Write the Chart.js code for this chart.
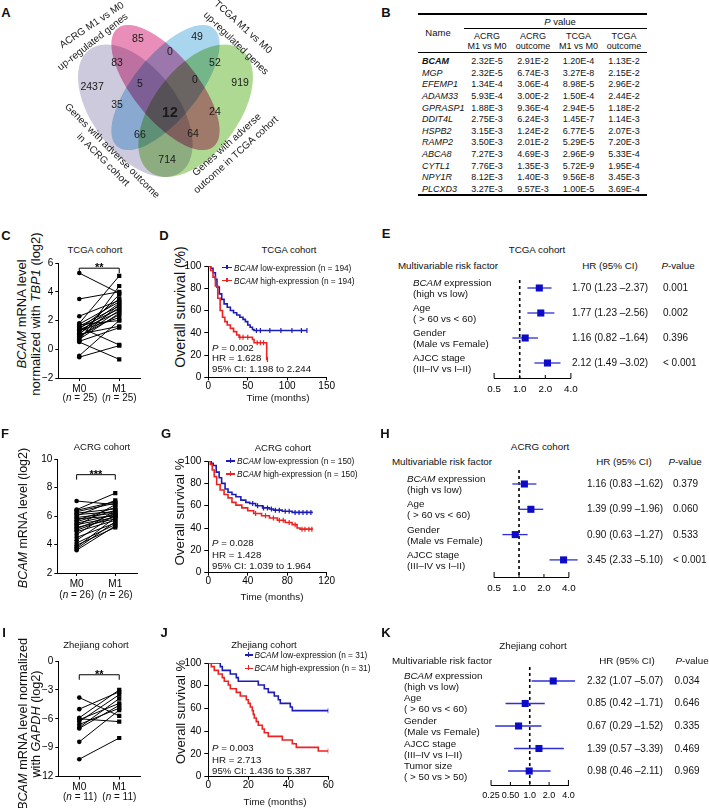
<!DOCTYPE html>
<html><head><meta charset="utf-8"><title>BCAM figure</title>
<script src="https://cdn.jsdelivr.net/npm/chart.js"></script>
<style>
html,body{margin:0;padding:0;background:#fff;}
#root{position:relative;width:709px;height:808px;overflow:hidden;font-family:"Liberation Sans",Arial,Helvetica,sans-serif;color:#111;}
.t{position:absolute;white-space:nowrap;line-height:1;}
</style></head><body><div id="root"></div>
<script>
const FONT='"Liberation Sans", Arial, Helvetica, sans-serif';
// ================= DATA =================
// A: Venn
const vennLabelLines=[['ACRG M1 vs M0','up-regulated genes'],['TCGA M1 vs M0','up-regulated genes'],['Genes with adverse outcome','in ACRG cohort'],['Genes with adverse','outcome in TCGA cohort']];
const vennCounts=[2437,85,83,5,0,49,0,52,919,35,12,24,66,64,714];
// B: table
const tableGenes=['BCAM','MGP','EFEMP1','ADAM33','GPRASP1','DDIT4L','HSPB2','RAMP2','ABCA8','CYTL1','NPY1R','PLCXD3'];
const tableHeaders=[['ACRG','M1 vs M0'],['ACRG','outcome'],['TCGA','M1 vs M0'],['TCGA','outcome']];
const pAcrgM1vsM0=['2.32E-5','2.32E-5','1.34E-4','5.93E-4','1.88E-3','2.75E-3','3.15E-3','3.50E-3','7.27E-3','7.76E-3','8.12E-3','3.27E-3'];
const pAcrgOutcome=['2.91E-2','6.74E-3','3.06E-4','3.00E-2','9.36E-4','6.24E-3','1.24E-2','2.01E-2','4.69E-3','1.35E-3','1.40E-3','9.57E-3'];
const pTcgaM1vsM0=['1.20E-4','3.27E-8','8.98E-5','1.50E-4','2.94E-5','1.45E-7','6.77E-5','5.29E-5','2.96E-9','5.72E-9','9.56E-8','1.00E-5'];
const pTcgaOutcome=['1.13E-2','2.15E-2','2.96E-2','2.44E-2','1.18E-2','1.14E-3','2.07E-3','7.20E-3','5.33E-4','1.95E-4','3.45E-3','3.69E-4'];
// C, F, I: paired expression
const pairedTicks=['M0','M1'];
const tcgaM0=[5.3,3.5,2.3,1.8,1.75,1.7,1.6,1.55,1.5,1.4,1.35,1.3,1.2,1.1,1.05,1.0,0.9,0.85,0.8,0.7,0.6,0.55,0.5,-0.45,-0.55];
const tcgaM1=[3.9,4.0,3.4,5.1,3.3,2.0,3.0,0.3,2.8,3.5,2.6,2.2,3.2,2.9,1.6,3.8,2.4,2.7,3.1,2.5,4.4,1.5,-0.7,2.0,0.25];
const acrgM0=[7.05,6.45,6.4,6.3,6.2,6.1,6.0,5.9,5.8,5.7,5.6,5.5,5.4,5.3,5.2,5.1,5.0,4.9,4.7,4.5,4.3,4.1,3.95,3.8,3.7,3.6];
const acrgM1=[6.8,7.6,7.0,6.9,6.5,6.3,7.1,6.2,6.0,6.6,6.4,6.1,5.9,6.8,5.8,6.2,6.0,5.7,6.4,5.5,6.1,5.4,5.2,5.9,5.6,5.3];
const zjM0=[-3.8,-5.0,-5.9,-6.0,-6.1,-6.3,-6.6,-6.9,-7.0,-8.4,-10.2];
const zjM1=[-5.7,-3.2,-3.0,-6.3,-4.4,-3.5,-4.9,-3.9,-4.6,-5.1,-8.0];
// D, G, J: Kaplan-Meier (time in months, survival %)
const dLowT=[0,3,6,9,11,14,17,20,24,28,32,36,40,44,47,50,53,56,58,125];
const dLowS=[100,98,94,88,81,75,70,66,63,60,58,56,54,52,50,47,45,43,42,42];
const dLowCens=[61,66,78,92,106,118,125];
const dHighT=[0,3,6,9,12,15,18,21,24,28,32,36,39,50,56,58,72,74,75];
const dHighS=[100,96,90,82,71,60,54,50,47,44,41,38,36,36,34,31,31,16,16];
const dHighCens=[40,44,50,62,66,70,75];
const gLowT=[0,3,5,8,11,13.5,17,20,24,28,33,38,42,48,55,62,66,75,85,106];
const gLowS=[100,98,96,90,85,80,75,72,70,68,65,63,62,60,58,57,56,55,54,54];
const gLowCens=[45,50,56,60,64,68,72,78,82,88,92,96,100,104];
const gHighT=[0,2,4,6,8.5,12,16,20,24,28,34,40,46,54,62,70,78,85,90,93,106];
const gHighS=[100,97,92,86,79,74,70,67,63,60.5,58,55.5,53,51,49,47,45,43,40,39,39];
const gHighCens=[48,58,66,72,76,82,88,95,98,102,105];
const jLowT=[0,6,7,11,14,15,25,28,30,33,35,36,41,42,60];
const jLowS=[100,96.8,93.5,90.3,87.1,83.9,80.6,77.4,74.2,71.0,67.7,64.5,61.3,58.1,58.1];
const jLowCens=[60];
const jHighT=[0,1.5,3,5,7,8,10,11,14,16,19,20,21,22,22.5,23,24,25,27,28,30,37,42,44,55,60];
const jHighS=[100,96.8,93.5,90.3,87.1,83.9,80.6,77.4,74.2,71.0,67.7,64.5,61.3,58.1,54.8,51.6,48.4,45.2,41.9,38.7,35.5,32.3,29.0,25.8,22.6,22.6];
const jHighCens=[60];
// E, H, K: multivariable Cox
const riskFactors=[['<i>BCAM</i> expression','(high vs low)'],['Age','( &gt; 60 vs &lt; 60)'],['Gender','(Male vs Female)'],['AJCC stage','(III–IV vs I–II)'],['Tumor size','( &gt; 50 vs &gt; 50)']];
const eHR=[1.70,1.77,1.16,2.12], eLow=[1.23,1.23,0.82,1.49], eHigh=[2.37,2.56,1.64,3.02], eP=['0.001','0.002','0.396','&lt; 0.001'];
const hHR=[1.16,1.39,0.90,3.45], hLow=[0.83,0.99,0.63,2.33], hHigh=[1.62,1.96,1.27,5.10], hP=['0.379','0.060','0.533','&lt; 0.001'];
const kHR=[2.32,0.85,0.67,1.39,0.98], kLow=[1.07,0.42,0.29,0.57,0.46], kHigh=[5.07,1.71,1.52,3.39,2.11], kP=['0.034','0.646','0.335','0.469','0.969'];
const forestTicks=[0.5,1,2,4], forestTickLabels=['0.5','1.0','2.0','4.0'];
const forestTicksK=[0.25,0.5,1,2,4], forestTickLabelsK=['0.25','0.50','1.0','2.0','4.0'];

// ================= LAYOUT / STYLE =================
const root=document.getElementById('root');
Chart.defaults.font.family=FONT; Chart.defaults.color='#000';
const KM_BLUE='#1c1cb6', KM_RED='#ee2222', F_BLUE='#0c0cc8', F_LINE='#2f2fd4';

function addText(html,x,y,o={}){
  const d=document.createElement('div'); d.className='t'; d.innerHTML=html;
  d.style.fontSize=(o.size||10)+'px';
  if(o.bold) d.style.fontWeight='bold';
  if(o.color) d.style.color=o.color;
  if(o.lh) d.style.lineHeight=o.lh+'px';
  if(o.align) d.style.textAlign=o.align;
  d.style.left=x+'px'; d.style.top=y+'px';
  const a=o.anchor||'c'; const tx=a==='l'?'0':a==='r'?'-100%':'-50%';
  d.style.transform=`translate(${tx},-50%)`+(o.rot?` rotate(${o.rot}deg)`:'');
  root.appendChild(d); return d;
}
function hline(x1,x2,y,w,color){const d=document.createElement('div');d.style.cssText=`position:absolute;left:${x1}px;top:${y-w/2}px;width:${x2-x1}px;height:${w}px;background:${color||'#000'}`;root.appendChild(d);}
function vline(x,y1,y2,w,color){const d=document.createElement('div');d.style.cssText=`position:absolute;left:${x-w/2}px;top:${y1}px;width:${w}px;height:${y2-y1}px;background:${color||'#000'}`;root.appendChild(d);}

function ax(o){
  const a={type:o.type||'linear',display:o.display!==false,reverse:!!o.reverse,
    border:{display:true,color:'#000',width:1},
    grid:{display:o.grid!==false,drawOnChartArea:false,drawTicks:o.grid!==false,tickLength:o.tl!=null?o.tl:4,color:'#000',lineWidth:1},
    ticks:{color:'#000',font:{family:FONT,size:o.fs||10},padding:o.pad!=null?o.pad:2,autoSkip:false,maxRotation:0,minRotation:0}};
  if(o.min!=null)a.min=o.min; if(o.max!=null)a.max=o.max;
  if(o.step!=null)a.ticks.stepSize=o.step;
  if(o.cb)a.ticks.callback=o.cb;
  if(o.fit)a.afterFit=o.fit;
  if(o.abt)a.afterBuildTicks=o.abt;
  return a;
}
function makeChart(area,yW,xH,m,cfg){
  const cl=Math.floor(area.l-yW-m),ct=Math.floor(area.t-m),cr=Math.ceil(area.r+m),cb=Math.ceil(area.b+xH+m);
  const w=cr-cl,h=cb-ct;
  const cv=document.createElement('canvas');cv.width=w;cv.height=h;
  cv.style.cssText=`position:absolute;left:${cl}px;top:${ct}px;width:${w}px;height:${h}px;`;
  root.appendChild(cv);
  const o=cfg.options||(cfg.options={});
  o.responsive=false;o.maintainAspectRatio=false;o.animation=false;o.devicePixelRatio=1;o.events=[];
  o.layout={autoPadding:false,padding:{left:area.l-yW-cl,top:area.t-ct,right:cr-area.r,bottom:cb-area.b-xH}};
  o.plugins=Object.assign({legend:{display:false},tooltip:{enabled:false}},o.plugins||{});
  return new Chart(cv.getContext('2d'),cfg);
}
const minus=v=>v<0?'\u2212'+Math.abs(v):String(v);

// ---------- plugins ----------
const bracketPlugin={id:'bracket',afterDatasetsDraw(chart,args,o){
  const X=chart.scales.x,Y=chart.scales.y,ctx=chart.ctx;
  const y0=Y.getPixelForValue(o.y),x0=X.getPixelForValue(0),x1=X.getPixelForValue(1);
  ctx.save();ctx.strokeStyle='#000';ctx.lineWidth=1;ctx.beginPath();
  ctx.moveTo(x0,y0+5);ctx.lineTo(x0,y0);ctx.lineTo(x1,y0);ctx.lineTo(x1,y0+5);ctx.stroke();
  ctx.fillStyle='#000';ctx.font='bold 11px '+FONT;ctx.textAlign='center';ctx.textBaseline='alphabetic';
  ctx.fillText(o.text,(x0+x1)/2,y0+3);ctx.restore();
}};
const inwardTicks={id:'inwardTicks',afterDraw(chart){
  const X=chart.scales.x,ctx=chart.ctx;ctx.save();ctx.strokeStyle='#000';ctx.lineWidth=1;
  X.ticks.forEach((t,i)=>{const x=X.getPixelForValue(t.value);const len=(i===0||i===X.ticks.length-1)?5:3;
    ctx.beginPath();ctx.moveTo(x,X.top+0.5);ctx.lineTo(x,X.top-len);ctx.stroke();});
  ctx.restore();
}};
const VENN={
  ellipses:[
    {cx:0.35,cy:0.47,a:0.35,b:0.20,rot:-45,color:'rgb(206,202,222)'},
    {cx:0.50,cy:0.57,a:0.35,b:0.15,rot:-45,color:'rgb(233,142,184)'},
    {cx:0.50,cy:0.57,a:0.35,b:0.15,rot:45,color:'rgb(170,213,239)'},
    {cx:0.65,cy:0.47,a:0.35,b:0.20,rot:45,color:'rgb(174,217,146)'}],
  countPos:[[0.135,0.572],[0.363,0.779],[0.259,0.675],[0.373,0.585],[0.522,0.723],[0.657,0.787],[0.647,0.602],[0.746,0.675],[0.871,0.589],[0.259,0.495],[0.522,0.460],[0.746,0.465],[0.373,0.366],[0.637,0.370],[0.508,0.258]],
  boldIndex:10,
  labels:[
    {angle:[-34,-38],pos:[[0.134,0.838],[0.139,0.766]]},
    {angle:[42,44],pos:[[0.885,0.830],[0.850,0.760]]},
    {angle:[45,45],pos:[[0.234,0.297],[0.189,0.258]]},
    {angle:[-42,-42],pos:[[0.806,0.323],[0.851,0.280]]}]
};
const vennPlugin={id:'venn',afterDraw(chart){
  const X=chart.scales.x,Y=chart.scales.y,ctx=chart.ctx;
  const sx=X.getPixelForValue(1)-X.getPixelForValue(0),sy=Y.getPixelForValue(0)-Y.getPixelForValue(1);
  ctx.save();ctx.globalCompositeOperation='multiply';
  VENN.ellipses.forEach(e=>{ctx.save();ctx.translate(X.getPixelForValue(e.cx),Y.getPixelForValue(e.cy));
    ctx.scale(sx,-sy);ctx.rotate(e.rot*Math.PI/180);ctx.beginPath();ctx.ellipse(0,0,e.a,e.b,0,0,2*Math.PI);
    ctx.fillStyle=e.color;ctx.fill();ctx.restore();});
  ctx.restore();
  ctx.save();ctx.fillStyle='#1a1a1a';ctx.textAlign='center';ctx.textBaseline='middle';
  vennCounts.forEach((n,i)=>{const p=VENN.countPos[i];ctx.font=(i===VENN.boldIndex?'bold 14px ':'10.5px ')+FONT;
    ctx.fillText(String(n),X.getPixelForValue(p[0]),Y.getPixelForValue(p[1]));});
  vennLabelLines.forEach((lines,k)=>{const L=VENN.labels[k];lines.forEach((txt,j)=>{const p=L.pos[j];
    ctx.save();ctx.translate(X.getPixelForValue(p[0]),Y.getPixelForValue(p[1]));ctx.rotate(L.angle[j]*Math.PI/180);
    ctx.font='10px '+FONT;ctx.fillText(txt,0,0);ctx.restore();});});
  ctx.restore();
}};

// ---------- chart builders ----------
function pairedChart(area,xr,yr,step,m0,m1,bracket){
  const ds=m0.map((v,i)=>({data:[{x:0,y:v},{x:1,y:m1[i]}],showLine:true,borderColor:'#000',borderWidth:1,
    pointBackgroundColor:'#000',pointBorderColor:'#000',pointBorderWidth:0,pointRadius:[2.3,3.0],pointStyle:['circle','rect']}));
  return makeChart(area,22,16,6,{type:'line',data:{datasets:ds},options:{scales:{
    x:ax({min:xr[0],max:xr[1],tl:3,pad:2,abt:s=>{s.ticks=[{value:0},{value:1}];},cb:(v,i)=>pairedTicks[i],fit:s=>{s.height=16;}}),
    y:ax({min:yr[0],max:yr[1],step:step,tl:3,pad:2,cb:v=>minus(v),fit:s=>{s.width=22;}})},
    plugins:{bracket:bracket}},plugins:[bracketPlugin]});
}
function survAt(T,S,t){let s=S[0];for(let i=0;i<T.length;i++){if(T[i]<=t)s=S[i];}return s;}
function kmChart(area,xMax,xStep,curves){
  const ds=[];
  curves.forEach(c=>{
    ds.push({data:c.cens.map(t=>({x:t,y:survAt(c.t,c.s,t)})),showLine:false,pointStyle:'line',rotation:90,pointRadius:2.5,
      pointBorderColor:c.color,pointBorderWidth:1.2,borderColor:c.color});
    ds.push({data:c.t.map((t,i)=>({x:t,y:c.s[i]})),stepped:true,showLine:true,borderColor:c.color,borderWidth:1.6,pointRadius:0,fill:false});
  });
  return makeChart(area,30,18,6,{type:'line',data:{datasets:ds},options:{scales:{
    x:ax({min:0,max:xMax,step:xStep,tl:3,pad:0,fit:s=>{s.height=18;}}),
    y:ax({min:0,max:100,step:20,tl:4,pad:3,fit:s=>{s.width=30;}})}}});
}
function forestChart(area,yr,xr,tv,tl,fs,hr,lo,hi){
  const ds=[];
  ds.push({data:hr.map((h,i)=>({x:h,y:i})),showLine:false,pointStyle:'rect',pointRadius:5,pointBackgroundColor:F_BLUE,pointBorderColor:F_BLUE,pointBorderWidth:0,clip:false});
  hr.forEach((h,i)=>ds.push({data:[{x:lo[i],y:i},{x:hi[i],y:i}],showLine:true,borderColor:F_LINE,borderWidth:1.3,pointRadius:0,clip:false}));
  ds.push({data:[{x:1,y:yr[0]},{x:1,y:yr[1]}],showLine:true,borderColor:'#000',borderWidth:1.6,borderDash:[3,3],pointRadius:0});
  return makeChart(area,0,16,8,{type:'line',data:{datasets:ds},options:{scales:{
    x:ax({type:'logarithmic',min:xr[0],max:xr[1],grid:false,fs:fs,pad:5.3,abt:s=>{s.ticks=tv.map(v=>({value:v}));},cb:(v,i)=>tl[i],fit:s=>{s.height=16;}}),
    y:{type:'linear',display:false,min:yr[0],max:yr[1],reverse:true}}},plugins:[inwardTicks]});
}

// ================= PANEL A: Venn =================
addText('A',6,12,{size:13,bold:true});
makeChart({l:40,r:300,t:0,b:212},0,0,0,{type:'line',data:{datasets:[]},options:{scales:{
  x:{type:'linear',display:false,min:-0.124,max:1.169},y:{type:'linear',display:false,min:0.0344,max:0.9466}}},plugins:[vennPlugin]});

// ================= PANEL B: table =================
addText('B',386,12,{size:13,bold:true});
hline(418,647,14,1.5);
addText('<i>P</i> value',560,22,{size:9.5});
hline(464,647,28,1);
addText('Name',438,33,{size:9.5});
const colX=[487,533,578.5,624];
tableHeaders.forEach((h,i)=>{addText(h[0],colX[i],36,{size:9});addText(h[1],colX[i],45.5,{size:9});});
hline(418,647,52.5,1.5);
const tableCols=[pAcrgM1vsM0,pAcrgOutcome,pTcgaM1vsM0,pTcgaOutcome];
tableGenes.forEach((g,r)=>{const y=61+r*11.64;
  addText(r===0?'<b><i>'+g+'</i></b>':'<i>'+g+'</i>',422,y,{size:9,anchor:'l'});
  tableCols.forEach((col,c)=>addText(col[r],colX[c],y,{size:9}));});
hline(418,647,195,1.5);

// ================= C / F / I paired =================
addText('C',6,235,{size:13,bold:true});
addText('TCGA cohort',95,250,{size:9.5});
addText('<i>BCAM</i> mRNA level<br>normalized with <i>TBP1</i> (log2)',29,314,{size:13,rot:-90,lh:14,align:'center'});
pairedChart({l:58.3,r:140,t:261.7,b:378},[-0.525,1.52],[-2,6],2,tcgaM0,tcgaM1,{y:5.64,text:'**'});
addText('(<i>n</i> = 25)',80,398,{size:10});addText('(<i>n</i> = 25)',119.3,398,{size:10});

addText('F',5,433,{size:13,bold:true});
addText('ACRG cohort',102,447,{size:9.5});
addText('<i>BCAM</i> mRNA level (log2)',23,518,{size:12.5,rot:-90});
pairedChart({l:57.3,r:137.3,t:457,b:573},[-0.5,1.57],[2,10],2,acrgM0,acrgM1,{y:8.9,text:'***'});
addText('(<i>n</i> = 26)',76.7,595,{size:10});addText('(<i>n</i> = 26)',115.3,595,{size:10});

addText('I',4,632,{size:13,bold:true});
addText('Zhejiang cohort',96,645,{size:9.5});
addText('<i>BCAM</i> mRNA level normalized<br>with <i>GAPDH</i> (log2)',30,724,{size:12.7,rot:-90,lh:13,align:'center'});
pairedChart({l:58.3,r:140,t:659.3,b:776.5},[-0.525,1.52],[-12,0],3,zjM0,zjM1,{y:-1.43,text:'**'});
addText('(<i>n</i> = 11)',80,797,{size:10});addText('(<i>n</i> = 11)',119.3,797,{size:10});

// ================= D / G / J KM =================
function kmLegend(x1,x2,tx,y,color,html){hline(x1,x2,y,1.3,color);vline((x1+x2)/2,y-3,y+1.5,1.3,color);addText(html,tx,y,{size:8.3,anchor:'l'});}
function kmAnnot(y0,dy,p,hr,ci){addText('<i>P</i> = '+p,212,y0,{size:9.7,anchor:'l'});addText('HR = '+hr,212,y0+dy,{size:9.7,anchor:'l'});addText('95% CI: '+ci,212,y0+2*dy,{size:9.7,anchor:'l'});}

addText('D',164,235,{size:13,bold:true});
addText('TCGA cohort',289,250,{size:9.5});
addText('Overall survival (%)',180,307,{size:14,rot:-90});
kmChart({l:208.3,r:328.3,t:263,b:377.3},150,50,[
  {t:dHighT,s:dHighS,cens:dHighCens,color:KM_RED},{t:dLowT,s:dLowS,cens:dLowCens,color:KM_BLUE}]);
kmLegend(222,232,234,267.5,KM_BLUE,'<i>BCAM</i> low-expression (n = 194)');
kmLegend(222,232,234,280.5,KM_RED,'<i>BCAM</i> high-expression (n = 194)');
kmAnnot(347.7,10.7,'0.002','1.628','1.198 to 2.244');
addText('Time (months)',278,398,{size:9.8});

addText('G',166,433,{size:13,bold:true});
addText('ACRG cohort',283,448,{size:9.5});
addText('Overall survival %',180,512,{size:13.4,rot:-90});
kmChart({l:208.3,r:328.3,t:458.3,b:572.7},120,40,[
  {t:gHighT,s:gHighS,cens:gHighCens,color:KM_RED},{t:gLowT,s:gLowS,cens:gLowCens,color:KM_BLUE}]);
kmLegend(226,235,237,461,KM_BLUE,'<i>BCAM</i> low-expression (n = 150)');
kmLegend(226,235,237,474,KM_RED,'<i>BCAM</i> high-expression (n = 150)');
kmAnnot(543.3,11.3,'0.028','1.428','1.039 to 1.964');
addText('Time (months)',272,597,{size:9.8});

addText('J',164,632,{size:13,bold:true});
addText('Zhejiang cohort',264,645,{size:9.5});
addText('Overall survival %',180,712,{size:13,rot:-90});
kmChart({l:208.3,r:328.3,t:660,b:776.7},60,20,[
  {t:jHighT,s:jHighS,cens:jHighCens,color:KM_RED},{t:jLowT,s:jLowS,cens:jLowCens,color:KM_BLUE}]);
kmLegend(245,252.5,254.5,655,KM_BLUE,'<i>BCAM</i> low-expression (n = 31)');
kmLegend(245,252.5,254.5,668.3,KM_RED,'<i>BCAM</i> high-expression (n = 31)');
kmAnnot(748,11.5,'0.003','2.713','1.436 to 5.387');
addText('Time (months)',275,802,{size:9.8});

// ================= E / H / K forest =================
function forestPanel(o){
  addText(o.letter,o.lx,o.ly,{size:13,bold:true});
  addText(o.title,o.titleX,o.titleY,{size:9.8});
  addText('Multivariable risk factor',o.headX,o.headY,{size:9.8});
  addText('HR (95% CI)',o.hrHeadX,o.headY,{size:9.8});
  addText('<i>P</i>-value',o.pHeadX,o.headY,{size:9.8});
  const n=o.hr.length;
  forestChart(o.area,o.yr,o.xr,o.tv,o.tl,o.fs,o.hr,o.lo,o.hi);
  for(let i=0;i<n;i++){
    const y=o.area.t+(i-o.yr[0])/(o.yr[1]-o.yr[0])*(o.area.b-o.area.t);
    addText(riskFactors[i][0],o.labX,y-5,{size:9.8,anchor:'l'});
    addText(riskFactors[i][1],o.labX,y+6,{size:9.8,anchor:'l'});
    addText(`${o.hr[i].toFixed(2)} (${o.lo[i].toFixed(2)} \u2013${o.hi[i].toFixed(2)})`,o.hrX,y,{size:10});
    addText(o.p[i],o.pX,y,{size:10,anchor:o.pAnchor});
  }
}
forestPanel({letter:'E',lx:386,ly:233,title:'TCGA cohort',titleX:537,titleY:250,headX:448,headY:266,hrHeadX:610,pHeadX:678,
  area:{l:490,r:575,t:280,b:378},yr:[-0.32,3.6],xr:[0.5,4],tv:forestTicks,tl:forestTickLabels,fs:9.8,hr:eHR,lo:eLow,hi:eHigh,p:eP,
  labX:413,hrX:610,pX:663,pAnchor:'l'});
forestPanel({letter:'H',lx:385,ly:433,title:'ACRG cohort',titleX:540,titleY:447,headX:442,headY:462,hrHeadX:624,pHeadX:685,
  area:{l:490,r:573,t:470,b:577},yr:[-0.553,3.676],xr:[0.5,4],tv:forestTicks,tl:forestTickLabels,fs:9.8,hr:hHR,lo:hLow,hi:hHigh,p:hP,
  labX:407,hrX:625,pX:673,pAnchor:'l'});
forestPanel({letter:'K',lx:386,ly:632,title:'Zhejiang cohort',titleX:533,titleY:646,headX:442,headY:661,hrHeadX:627,pHeadX:692,
  area:{l:485,r:572,t:667,b:785},yr:[-0.622,4.622],xr:[0.25,4],tv:forestTicksK,tl:forestTickLabelsK,fs:9,hr:kHR,lo:kLow,hi:kHigh,p:kP,
  labX:404,hrX:625,pX:687,pAnchor:'c'});
</script></body></html>
